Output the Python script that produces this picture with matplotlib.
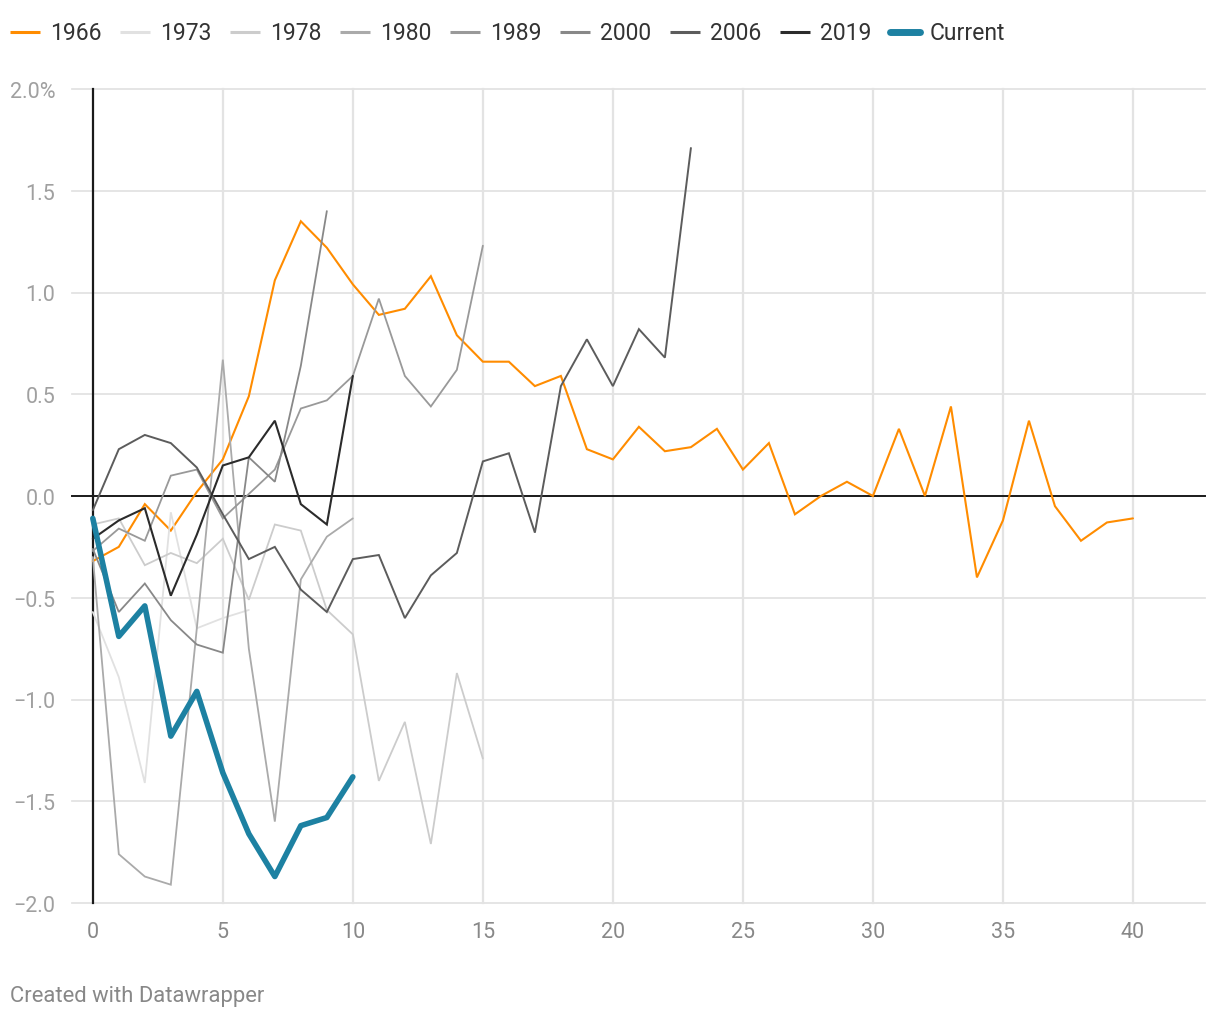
import matplotlib
matplotlib.use("Agg")
import matplotlib.pyplot as plt
from matplotlib.lines import Line2D

plt.rcParams['font.family'] = ['Roboto', 'DejaVu Sans']

# ---------------- data ----------------
s1966 = [-0.32, -0.25, -0.04, -0.17, 0.02, 0.18, 0.49, 1.06, 1.35, 1.22, 1.04,
         0.89, 0.92, 1.08, 0.79, 0.66, 0.66, 0.54, 0.59, 0.23, 0.18, 0.34, 0.22,
         0.24, 0.33, 0.13, 0.26, -0.09, 0.0, 0.07, 0.0, 0.33, 0.0, 0.44, -0.40,
         -0.12, 0.37, -0.05, -0.22, -0.13, -0.11]
s1973 = [-0.57, -0.89, -1.41, -0.08, -0.65, -0.60, -0.56]
s1978 = [-0.14, -0.11, -0.34, -0.28, -0.33, -0.21, -0.51, -0.14, -0.17, -0.56,
         -0.68, -1.40, -1.11, -1.71, -0.87, -1.29]
s1980 = [-0.30, -1.76, -1.87, -1.91, -0.65, 0.67, -0.75, -1.60, -0.41, -0.20, -0.11]
s1989 = [-0.27, -0.16, -0.22, 0.10, 0.13, -0.11, 0.01, 0.13, 0.43, 0.47, 0.59,
         0.97, 0.59, 0.44, 0.62, 1.23]
s2000 = [-0.26, -0.57, -0.43, -0.61, -0.73, -0.77, 0.19, 0.07, 0.64, 1.40]
s2006 = [-0.07, 0.23, 0.30, 0.26, 0.14, -0.09, -0.31, -0.25, -0.46, -0.57, -0.31,
         -0.29, -0.60, -0.39, -0.28, 0.17, 0.21, -0.18, 0.54, 0.77, 0.54, 0.82,
         0.68, 1.71]
s2019 = [-0.21, -0.12, -0.06, -0.49, -0.19, 0.15, 0.19, 0.37, -0.04, -0.14, 0.59]
current = [-0.11, -0.69, -0.54, -1.18, -0.96, -1.36, -1.66, -1.87, -1.62, -1.58, -1.38]

series_names = ['1966', '1973', '1978', '1980', '1989', '2000', '2006', '2019', 'Current']
series_values = [s1966, s1973, s1978, s1980, s1989, s2000, s2006, s2019, current]

xticks = [0, 5, 10, 15, 20, 25, 30, 35, 40]
xtick_labels = ['0', '5', '10', '15', '20', '25', '30', '35', '40']
yticks = [-2.0, -1.5, -1.0, -0.5, 0.0, 0.5, 1.0, 1.5, 2.0]
ytick_labels = ['\u22122.0', '\u22121.5', '\u22121.0', '\u22120.5', '0.0', '0.5', '1.0', '1.5', '2.0%']

# ---------------- styles ----------------
colors = ['#ff8c00', '#e1e1e1', '#cccccc', '#aaaaaa', '#999999', '#888888',
          '#5c5c5c', '#2b2b2b', '#1d81a2']
widths = [1.5, 1.3, 1.3, 1.3, 1.3, 1.3, 1.4, 1.5, 4.0]

W, H = 1220, 1020
fig = plt.figure(figsize=(W / 100, H / 100), dpi=100)
ax = fig.add_axes([72 / W, 1 - 904 / H, (1205 - 72) / W, (904 - 90) / H])

ax.set_xlim(-0.8, 42.77)
ax.set_ylim(-2.0, 2.0)

for s in ax.spines.values():
    s.set_visible(False)

# grid
for yv in yticks:
    if yv == 0:
        continue
    ax.axhline(yv, color='#e3e3e3', lw=1.3, zorder=0, clip_on=False)
for xv in xticks[1:]:
    ax.axvline(xv, color='#e3e3e3', lw=1.6, zorder=0, clip_on=False)
ax.axhline(0, color='#1a1a1a', lw=1.4, zorder=1, clip_on=False)
ax.axvline(0, color='#1a1a1a', lw=1.6, zorder=1, clip_on=False)

for name, vals, c, w in zip(series_names, series_values, colors, widths):
    xs = list(range(len(vals)))
    ax.plot(xs, vals, color=c, lw=w, zorder=3 if name != 'Current' else 5,
            solid_joinstyle='miter' if name != 'Current' else 'round',
            solid_capstyle='round', clip_on=False)

ax.set_xticks(xticks)
ax.set_xticklabels(xtick_labels)
ax.set_yticks(yticks)
ax.set_yticklabels(ytick_labels)
ax.tick_params(axis='x', length=0, pad=13, labelsize=15.5, labelcolor='#888888')
ax.tick_params(axis='y', length=0, pad=12, labelsize=15.5, labelcolor='#a0a0a0')

# legend (manual, top row)
leg_x0 = 10
leg_step = 110
leg_y = 33
for i, (name, c) in enumerate(zip(series_names, colors)):
    x = leg_x0 + i * leg_step
    lw = 5 if name == 'Current' else 2.2
    fig.add_artist(Line2D([x / W, (x + 30) / W], [1 - leg_y / H, 1 - leg_y / H],
                          color=c, lw=lw, solid_capstyle='round' if name == 'Current' else 'butt',
                          transform=fig.transFigure))
    fig.text((x + 40) / W, 1 - leg_y / H, name, fontsize=16.5, color='#333333',
             va='center', ha='left')

fig.text(10 / W, 1 - 997 / H, 'Created with Datawrapper', fontsize=15.8,
         color='#888888', va='center', ha='left')

fig.savefig('out.png', dpi=100, facecolor='white')
